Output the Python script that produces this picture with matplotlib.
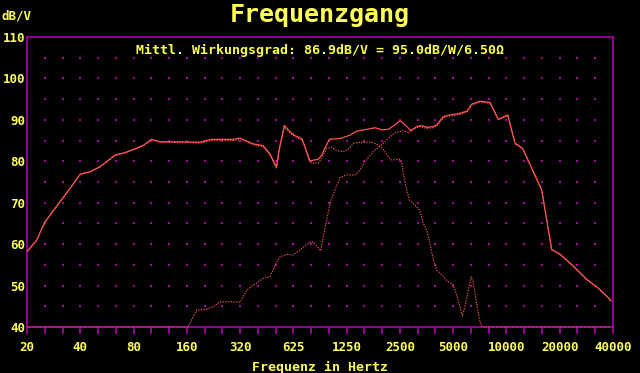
import numpy as np
import matplotlib
matplotlib.use("Agg")
import matplotlib.pyplot as plt

# colours (EGA like)
YELLOW = "#ffff55"
RED = "#ff5555"
MAGENTA = "#aa00aa"

# ---- data ----
# total response (solid)
main_hz = [20, 22.7, 25.1, 35, 40, 45.4, 51.7, 62.9, 71.6, 80, 90.5, 101, 113, 152, 190, 221,
           292, 320, 379, 431, 472, 514, 531, 569, 613, 654, 714, 745, 795, 885, 925, 1022,
           1175, 1337, 1459, 1662, 1852, 2021, 2201, 2349, 2564, 2798, 2947, 3187, 3400, 3628,
           3954, 4133, 4504, 4914, 5360, 5596, 6106, 6518, 7260, 8272, 9210, 10412, 11450,
           12660, 16200, 18450, 20560, 24460, 29100, 33150, 37740, 40000]
main_db = [58.2, 61.0, 65.2, 73.5, 76.9, 77.5, 78.7, 81.5, 82.1, 82.9, 83.8, 85.3, 84.7, 84.7,
           84.6, 85.3, 85.3, 85.6, 84.2, 83.8, 81.8, 78.6, 82.7, 88.7, 87.1, 86.2, 85.5, 83.5,
           80.1, 80.5, 81.5, 85.3, 85.5, 86.3, 87.3, 87.7, 88.1, 87.6, 87.7, 88.5, 89.8, 88.4,
           87.4, 88.4, 88.6, 88.2, 88.4, 88.8, 90.8, 91.2, 91.4, 91.6, 92.1, 93.8, 94.5, 94.2,
           90.1, 91.2, 84.4, 83.1, 73.1, 58.7, 57.6, 54.7, 51.5, 49.7, 47.5, 46.3]

# low pass branch (dotted)
low_hz = [20, 22.7, 25.1, 35, 40, 45.4, 51.7, 62.9, 71.6, 80, 90.5, 101, 113, 152, 190, 221,
          292, 320, 379, 431, 472, 514, 531, 569, 613, 654, 714, 745, 795, 885, 930, 988,
          1054, 1125, 1226, 1309, 1396, 1523, 1774, 1852, 1977, 2108, 2201, 2301, 2564, 2621,
          2676, 2798, 2894, 3118, 3326, 3471, 3628, 3787, 3954, 4133, 4410, 4708, 5130, 5360,
          5596, 5768, 5972, 6234, 6458, 6654, 6894, 7102, 7326, 7580, 40000]
low_db = [58.1, 60.9, 65.1, 73.4, 76.8, 77.4, 78.6, 81.4, 82.0, 82.8, 83.7, 85.1, 84.6, 84.5,
          84.4, 85.0, 85.0, 85.2, 84.0, 83.5, 81.5, 78.2, 82.3, 88.2, 86.8, 85.9, 85.2, 83.2,
          79.6, 79.5, 81.0, 83.1, 83.4, 82.6, 82.3, 82.9, 84.3, 84.6, 84.6, 84.3, 83.7, 82.3,
          81.1, 80.3, 80.5, 79.9, 77.1, 73.1, 70.7, 69.4, 68.0, 65.0, 63.4, 60.2, 56.2, 53.8,
          52.6, 51.2, 50.1, 47.7, 44.9, 42.7, 44.9, 48.9, 52.1, 50.9, 46.5, 43.3, 40.5, 40.0,
          40.0]

# high pass branch (dotted)
high_hz = [20, 162, 182, 207, 226, 246, 269, 320, 349, 379, 433, 472, 504, 538, 587, 639, 698,
           787, 829, 874, 913, 945, 979, 1031, 1100, 1175, 1282, 1427, 1523, 1626, 1735, 1893,
           1977, 2108, 2250, 2402, 2676, 2856, 3049, 3326, 3628, 3954, 4133, 4504, 4914, 5360,
           5596, 6106, 6518, 7260, 8272, 9210, 10412, 11450, 12660, 16200, 18450, 20560,
           24460, 29100, 33150, 37740, 40000]
high_db = [40.0, 40.0, 44.1, 44.3, 44.9, 46.1, 46.1, 46.0, 48.9, 50.1, 51.7, 52.1, 55.0, 56.9,
           57.5, 57.4, 58.6, 60.4, 60.5, 59.4, 58.4, 61.8, 65.0, 69.8, 73.1, 76.1, 76.7, 76.7,
           77.9, 79.9, 81.5, 83.1, 83.7, 84.7, 85.9, 86.9, 87.4, 86.9, 87.7, 88.4, 87.9, 88.1,
           88.5, 90.5, 90.9, 91.1, 91.3, 91.8, 93.5, 94.3, 94.0, 90.0, 91.0, 84.2, 82.9, 72.9,
           58.6, 57.5, 54.6, 51.4, 49.6, 47.4, 46.2]

x_ticks = [20, 40, 80, 160, 320, 640, 1280, 2560, 5120, 10240, 20480, 40960]
x_labels = ["20", "40", "80", "160", "320", "625", "1250", "2500", "5000", "10000", "20000", "40000"]
y_ticks = [40, 50, 60, 70, 80, 90, 100, 110]

title = "Frequenzgang"
note = "Mittl. Wirkungsgrad: 86.9dB/V = 95.0dB/W/6.50\u03a9"

FONT = "DejaVu Sans Mono"

fig = plt.figure(figsize=(6.4, 3.73), dpi=100, facecolor="black")
ax = fig.add_axes([27 / 640, 46 / 373, 586 / 640, 290 / 373], facecolor="black")
ax.set_xscale("log", base=2)
ax.set_xlim(20, 40960)
ax.set_ylim(40, 110)

# dotted grid: third octave x 5 dB
gx = [20 * 2 ** (k / 3) for k in range(1, 33)]
gy = list(range(45, 110, 5))
GX, GY = np.meshgrid(gx, gy)
ax.scatter(GX.ravel(), GY.ravel(), s=0.9, marker="s", color=MAGENTA, linewidths=0, zorder=1)

for s in ax.spines.values():
    s.set_color(MAGENTA)
    s.set_linewidth(1.2)
    s.set_zorder(2)

ax.plot(low_hz, low_db, color=RED, lw=0.8, ls=(0, (1.2, 1.2)), zorder=3, clip_on=False)
ax.plot(high_hz, high_db, color=RED, lw=0.8, ls=(0, (1.2, 1.2)), zorder=3, clip_on=False)
ax.plot(main_hz, main_db, color=RED, lw=0.9, zorder=4)

ax.set_xticks(x_ticks)
ax.set_xticklabels(x_labels)
ax.set_xticks([20 * 2 ** (k / 3) for k in range(34)], minor=True)
ax.tick_params(axis="x", which="both", direction="out", length=5, width=1.2, color=MAGENTA,
               labelcolor=YELLOW, pad=5)
ax.set_yticks(y_ticks)
ax.tick_params(axis="y", length=0, pad=1.5, labelcolor=YELLOW)
for lab in ax.get_xticklabels() + ax.get_yticklabels():
    lab.set_fontfamily(FONT)
    lab.set_fontweight("bold")
    lab.set_fontsize(9)

fig.text(0.5, 1 - 15 / 373, title, color=YELLOW, family=FONT, weight="bold", fontsize=18,
         ha="center", va="center")
fig.text(2 / 640, 1 - 16 / 373, "dB/V", color=YELLOW, family=FONT, weight="bold", fontsize=9,
         ha="left", va="center")
fig.text(0.5, 1 - 50 / 373, note, color=YELLOW, family=FONT, weight="bold", fontsize=9.5,
         ha="center", va="center")
fig.text(0.5, 1 - 367 / 373, "Frequenz in Hertz", color=YELLOW, family=FONT, weight="bold",
         fontsize=9.5, ha="center", va="center")

fig.savefig("out.png", dpi=100, facecolor="black")
